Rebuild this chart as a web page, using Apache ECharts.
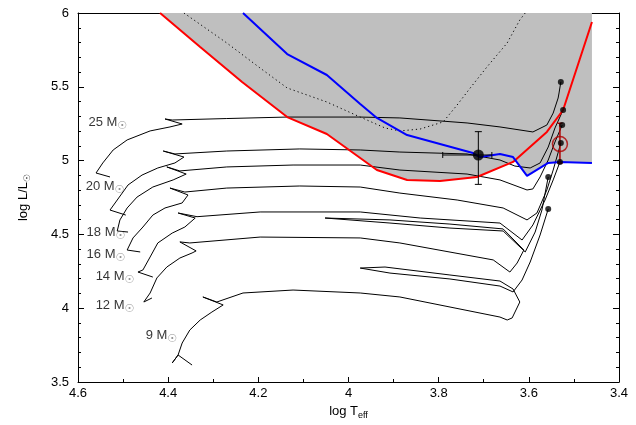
<!DOCTYPE html>
<html><head><meta charset="utf-8">
<script src="https://cdn.jsdelivr.net/npm/echarts@6/dist/echarts.min.js"></script>
<style>html,body{margin:0;padding:0;background:#fff}#c{width:636px;height:425px}</style>
</head><body><div id="c"></div>
<script>
// ---- data (log Teff, log L/Lsun) ----
const track25T = [4.529,4.560,4.545,4.522,4.491,4.440,4.396,4.369,4.407,4.391,4.270,4.136,3.974,3.886,3.737,3.664,3.591,3.560,3.546,3.535,3.533,3.529];
const track25L = [4.889,4.916,4.984,5.072,5.140,5.201,5.228,5.248,5.282,5.275,5.285,5.295,5.295,5.289,5.255,5.228,5.194,5.241,5.322,5.424,5.458,5.533];
const track20T = [4.494,4.529,4.513,4.489,4.458,4.423,4.385,4.365,4.411,4.385,4.270,4.108,3.974,3.886,3.737,3.664,3.631,3.597,3.575,3.557,3.542,3.524];
const track20L = [4.631,4.665,4.733,4.835,4.902,4.950,4.984,5.024,5.065,5.045,5.065,5.079,5.072,5.058,5.045,5.004,4.963,4.950,4.984,5.092,5.221,5.343];
const track18T = [4.489,4.513,4.507,4.491,4.469,4.434,4.389,4.360,4.403,4.374,4.270,4.123,3.974,3.886,3.737,3.664,3.604,3.591,3.575,3.557,3.542,3.526];
const track18L = [4.516,4.523,4.598,4.679,4.753,4.821,4.869,4.909,4.957,4.930,4.957,4.970,4.970,4.936,4.909,4.869,4.801,4.808,4.889,5.004,5.126,5.241];
const track16T = [4.462,4.491,4.478,4.456,4.434,4.407,4.369,4.356,4.396,4.363,4.270,4.108,3.974,3.886,3.759,3.657,3.604,3.582,3.560,3.546,3.529];
const track16L = [4.381,4.394,4.476,4.550,4.631,4.679,4.713,4.767,4.814,4.787,4.814,4.828,4.821,4.780,4.733,4.679,4.598,4.645,4.801,4.936,5.119];
const track14T = [4.434,4.467,4.456,4.440,4.423,4.391,4.363,4.340,4.378,4.336,4.196,3.974,3.841,3.664,3.615,3.591,3.564,3.546,3.531];
const track14L = [4.211,4.245,4.259,4.347,4.442,4.509,4.550,4.611,4.645,4.620,4.652,4.652,4.611,4.577,4.462,4.564,4.733,4.869,4.991];
const track12T = [4.436,4.454,4.440,4.425,4.403,4.374,4.347,4.338,4.374,4.352,4.196,3.974,3.886,3.679,3.642,3.626,3.611,3.657,3.775,3.908,4.052,3.908,3.775,3.657,3.608,3.586,3.571,3.557];
const track12L = [4.069,4.042,4.103,4.205,4.279,4.340,4.374,4.388,4.449,4.442,4.482,4.476,4.442,4.327,4.245,4.306,4.394,4.537,4.570,4.598,4.611,4.577,4.543,4.523,4.381,4.516,4.665,4.889];
const track9T = [4.347,4.378,4.391,4.378,4.369,4.352,4.329,4.303,4.278,4.323,4.292,4.234,4.123,3.974,3.886,3.664,3.648,3.637,3.620,3.635,3.664,3.775,3.919,3.974,3.908,3.775,3.664,3.635,3.615,3.597,3.575,3.557];
const track9L = [3.615,3.683,3.629,3.683,3.764,3.852,3.920,3.974,4.022,4.076,4.042,4.103,4.123,4.103,4.076,3.940,3.920,3.934,4.042,4.130,4.184,4.225,4.279,4.272,4.238,4.198,4.150,4.110,4.191,4.313,4.496,4.672];

const endT = [3.529,3.524,3.526,3.529,3.531,3.557,3.557];
const endL = [5.533,5.343,5.241,5.119,4.991,4.889,4.672];

const f606T = [4.418,4.329,4.236,4.136,4.048,3.937,3.870,3.797,3.715,3.635,3.560,3.524,3.460];
const f606L = [6.000,5.770,5.533,5.295,5.180,4.936,4.869,4.862,4.889,4.991,5.194,5.343,5.939];
const f814T = [4.234,4.136,4.048,3.974,3.937,3.870,3.724,3.708,3.664,3.635,3.604,3.557,3.531,3.460];
const f814L = [6.000,5.722,5.580,5.384,5.289,5.173,5.051,5.024,5.045,5.024,4.896,4.984,4.991,4.984];
const f450T = [4.365,4.270,4.196,4.136,4.048,3.974,3.919,3.886,3.841,3.790,3.759,3.730,3.693,3.648,3.620,3.608];
const f450L = [6.000,5.797,5.627,5.492,5.397,5.295,5.221,5.201,5.214,5.262,5.377,5.492,5.634,5.797,5.953,6.000];
const grayT = [4.418,4.329,4.236,4.136,4.048,3.937,3.870,3.797,3.715,3.635,3.628,3.604,3.557,3.531,3.460];
const grayL = [6.000,5.770,5.533,5.295,5.180,4.936,4.869,4.862,4.889,4.991,5.004,4.896,4.984,4.991,4.984];

// observed star: [logT, logL, logT hot end, logT cool end, logL low, logL high]
const starBlack = [3.712, 5.038, 3.791, 3.682, 4.839, 5.196];
const starRed = [3.531, 5.112, 3.531, 3.531, 4.982, 5.253];

const massNames = ['25','20','18','16','14','12','9'];
const massLabelT = [4.578,4.584,4.582,4.582,4.562,4.562,4.451];
const massLabelL = [5.248,4.814,4.503,4.354,4.205,4.008,3.805];

const xTickVals = [4.6,4.4,4.2,4.0,3.8,3.6,3.4];
const yTickVals = [3.5,4.0,4.5,5.0,5.5,6.0];

// ---- build ----
const zip = (a,b) => a.map((v,i)=>[v,b[i]]);
const FONT = 'Liberation Sans';
const tracks = [[track25T,track25L],[track20T,track20L],[track18T,track18L],[track16T,track16L],[track14T,track14L],[track12T,track12L],[track9T,track9L]];

const series = [];
series.push({type:'line', data: zip(grayT,grayL), symbol:'none', lineStyle:{width:0},
  areaStyle:{color:'#bfbfbf', opacity:1, origin:'end'}, z:1, silent:true});
series.push({type:'line', data: zip(f450T,f450L), symbol:'none', lineStyle:{color:'#000', width:1, type:[1.2,3]}, z:2});
tracks.forEach(tr => series.push({type:'line', data: zip(tr[0],tr[1]), symbol:'none',
  lineStyle:{color:'#000', width:1}, z:3}));
series.push({type:'line', data: zip(f606T,f606L), symbol:'none', lineStyle:{color:'#ff0000', width:2}, z:4});
series.push({type:'line', data: zip(f814T,f814L), symbol:'none', lineStyle:{color:'#0000ff', width:2}, z:4});

function errBar(color, capX, capY, lw){
  return (params, api) => {
    const t=api.value(0), l=api.value(1), tlo=api.value(2), thi=api.value(3), llo=api.value(4), lhi=api.value(5);
    const top=api.coord([t,lhi]), bot=api.coord([t,llo]);
    const left=api.coord([tlo,l]), right=api.coord([thi,l]);
    const st={stroke:color, lineWidth:lw};
    const ch=[
      {type:'line', shape:{x1:top[0],y1:top[1],x2:bot[0],y2:bot[1]}, style:st},
      {type:'line', shape:{x1:top[0]-capY,y1:top[1],x2:top[0]+capY,y2:top[1]}, style:st},
      {type:'line', shape:{x1:bot[0]-capY,y1:bot[1],x2:bot[0]+capY,y2:bot[1]}, style:st}
    ];
    if (Math.abs(right[0]-left[0])>1){
      ch.push({type:'line', shape:{x1:left[0],y1:left[1],x2:right[0],y2:right[1]}, style:st});
      ch.push({type:'line', shape:{x1:left[0],y1:left[1]-capX,x2:left[0],y2:left[1]+capX}, style:st});
      ch.push({type:'line', shape:{x1:right[0],y1:right[1]-capX,x2:right[0],y2:right[1]+capX}, style:st});
    }
    return {type:'group', children:ch};
  };
}
series.push({type:'custom', renderItem: errBar('#000',3,3.5,1), data:[starBlack], z:5, encode:{x:0,y:1}});
series.push({type:'custom', renderItem: errBar('#b00000',2,2.5,1.5), data:[starRed], z:5, encode:{x:0,y:1}});
series.push({type:'scatter', data:[[starBlack[0],starBlack[1]]], symbolSize:11, itemStyle:{color:'#000'}, z:6});
series.push({type:'scatter', data: zip(endT,endL), symbolSize:6, itemStyle:{color:'#000'}, z:6});
series.push({type:'scatter', data:[[starRed[0],starRed[1]]], symbolSize:15,
  itemStyle:{color:'rgba(0,0,0,0)', borderColor:'#b00000', borderWidth:1.5}, z:7});
series.push({type:'scatter', data: massNames.map((n,i)=>({value:[massLabelT[i],massLabelL[i]], name:n})),
  symbolSize:1, itemStyle:{color:'rgba(0,0,0,0)'}, z:8, silent:true,
  label:{show:true, position:'right', distance:0,
    formatter: p => '{a|' + p.name + ' M}{s|☉}',
    rich:{a:{fontFamily:FONT, fontSize:13, color:'#000', lineHeight:14, verticalAlign:'top'},
          s:{fontFamily:'DejaVu Sans', fontSize:11, color:'#777', padding:[5,0,0,0], verticalAlign:'top'}}}});

const fmt = v => String(Math.round(v*10)/10);
const option = {
  animation:false,
  backgroundColor:'#fff',
  grid:{left:78, right:17, top:13, bottom:43},
  xAxis:[{type:'value', inverse:true, min:3.4, max:4.6, interval:0.2,
    axisLine:{lineStyle:{color:'#000', width:1}},
    axisTick:{inside:true, length:5, lineStyle:{color:'#000'}},
    minorTick:{show:true, splitNumber:2, length:3, lineStyle:{color:'#000'}},
    splitLine:{show:false},
    axisLabel:{color:'#000', fontFamily:FONT, fontSize:13, margin:5, formatter:fmt},
    name:'{a|log T}{s|eff}', nameLocation:'middle', nameGap:19,
    nameTextStyle:{rich:{a:{fontFamily:FONT,fontSize:13,color:'#000',verticalAlign:'top',lineHeight:14},
                          s:{fontFamily:FONT,fontSize:9,color:'#000',verticalAlign:'top',padding:[6,0,0,0]}}}},
   {type:'value', inverse:true, min:3.4, max:4.6, position:'top', interval:0.2,
    axisLine:{show:true, lineStyle:{color:'#000'}}, axisTick:{show:false}, axisLabel:{show:false}, splitLine:{show:false}}],
  yAxis:[{type:'value', min:3.5, max:6, interval:0.5,
    axisLine:{show:true, lineStyle:{color:'#000', width:1}},
    axisTick:{inside:true, length:6, lineStyle:{color:'#000'}},
    minorTick:{show:true, splitNumber:5, length:3, lineStyle:{color:'#000'}},
    splitLine:{show:false},
    axisLabel:{color:'#000', fontFamily:FONT, fontSize:13, margin:9, formatter:fmt},
    name:'{a|log L/L}{s|☉}', nameLocation:'middle', nameGap:46, nameRotate:90,
    nameTextStyle:{rich:{a:{fontFamily:FONT,fontSize:13,color:'#000',verticalAlign:'top',lineHeight:14},
                          s:{fontFamily:'DejaVu Sans',fontSize:9,color:'#333',verticalAlign:'top',padding:[6,0,0,0]}}}},
   {type:'value', min:3.5, max:6, interval:0.5, position:'right',
    axisLine:{show:true, lineStyle:{color:'#000'}},
    axisTick:{inside:true, length:6, lineStyle:{color:'#000'}},
    minorTick:{show:true, splitNumber:5, length:3, lineStyle:{color:'#000'}},
    axisLabel:{show:false}, splitLine:{show:false}}],
  graphic:[
    {type:'text', left:303, top:23, style:{text:'F814W', fill:'#0000ff', font:'13px "Liberation Sans"'}},
    {type:'text', left:460, top:23, style:{text:'F450W', fill:'#000', font:'13px "Liberation Sans"'}},
    {type:'text', left:537, top:23, style:{text:'F606W', fill:'#ff0000', font:'13px "Liberation Sans"'}}
  ],
  series: series
};
const chart = echarts.init(document.getElementById('c'), null, {renderer:'canvas'});
chart.setOption(option);
</script>
</body></html>
